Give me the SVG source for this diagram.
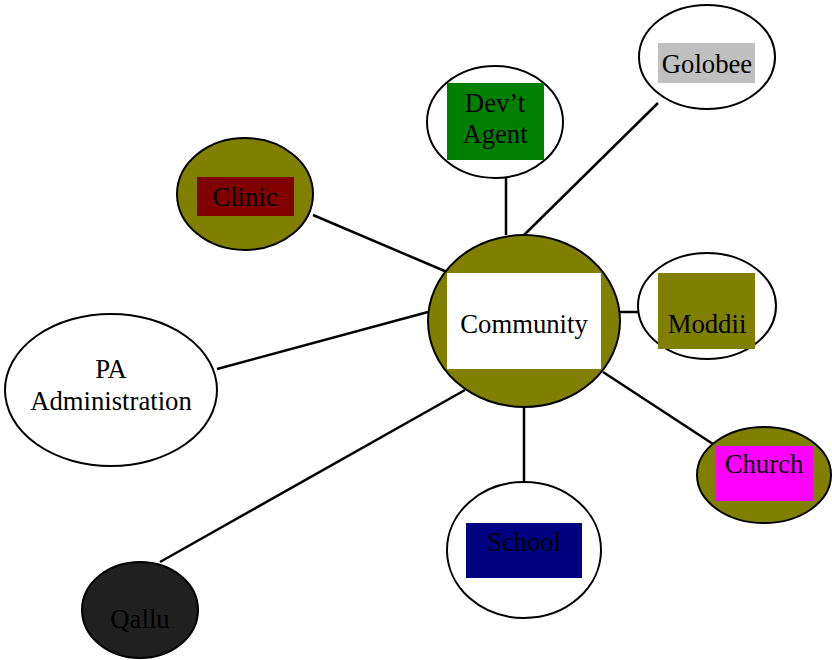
<svg xmlns="http://www.w3.org/2000/svg" width="832" height="660" viewBox="0 0 832 660">
<style>
.e{stroke:#000;stroke-width:2}
.c line{stroke:#000;stroke-width:2.5}
text{font-family:"Liberation Serif","Times New Roman",serif;font-size:26.7px;fill:#000;text-anchor:middle}
</style>
<rect width="832" height="660" fill="#fff"/>
<g class="c" id="connectors">
<line x1="217" y1="369" x2="428" y2="312"/>
<line x1="313" y1="215" x2="447" y2="272"/>
<line x1="506" y1="178" x2="506" y2="235"/>
<line x1="658" y1="103" x2="524" y2="235"/>
<line x1="620" y1="312" x2="639" y2="312"/>
<line x1="603" y1="372" x2="716" y2="446"/>
<line x1="524" y1="407" x2="524" y2="483"/>
<line x1="160" y1="562" x2="465" y2="390"/>
</g>
<g id="community">
<ellipse class="e" cx="524" cy="321" rx="96" ry="86" fill="#808000"/>
<rect x="447" y="273" width="154" height="96" fill="#fff"/>
<text x="524" y="333">Community</text>
</g>
<g id="clinic">
<ellipse class="e" cx="245" cy="194" rx="68" ry="56" fill="#808000"/>
<rect x="197" y="177" width="97" height="39" fill="#800000"/>
<text x="245" y="206">Clinic</text>
</g>
<g id="devt-agent">
<ellipse class="e" cx="495" cy="122" rx="68" ry="56" fill="#fff"/>
<rect x="447" y="83" width="97" height="77" fill="#008000"/>
<text x="495" y="112">Dev’t</text>
<text x="495" y="143">Agent</text>
</g>
<g id="golobee">
<ellipse class="e" cx="707" cy="57" rx="68" ry="52" fill="#fff"/>
<rect x="658" y="43" width="97" height="40" fill="#c0c0c0"/>
<text x="707" y="73">Golobee</text>
</g>
<g id="moddii">
<ellipse class="e" cx="707" cy="306" rx="69" ry="53" fill="#fff"/>
<rect x="658" y="273" width="97" height="76" fill="#808000"/>
<text x="707" y="333">Moddii</text>
</g>
<g id="church">
<ellipse class="e" cx="764" cy="475" rx="67" ry="48" fill="#808000"/>
<rect x="716" y="446" width="97" height="55" fill="#ff00ff"/>
<text x="764" y="473">Church</text>
</g>
<g id="school">
<ellipse class="e" cx="524" cy="550" rx="77" ry="68" fill="#fff"/>
<rect x="466" y="523" width="116" height="55" fill="#000080"/>
<text x="524" y="551">School</text>
</g>
<g id="qallu">
<ellipse class="e" cx="140" cy="610" rx="58" ry="48" fill="#202020"/>
<text x="140" y="628">Qallu</text>
</g>
<g id="pa-administration">
<ellipse class="e" cx="111" cy="390" rx="106" ry="76" fill="#fff"/>
<text x="111" y="378">PA</text>
<text x="111" y="410">Administration</text>
</g>
</svg>
